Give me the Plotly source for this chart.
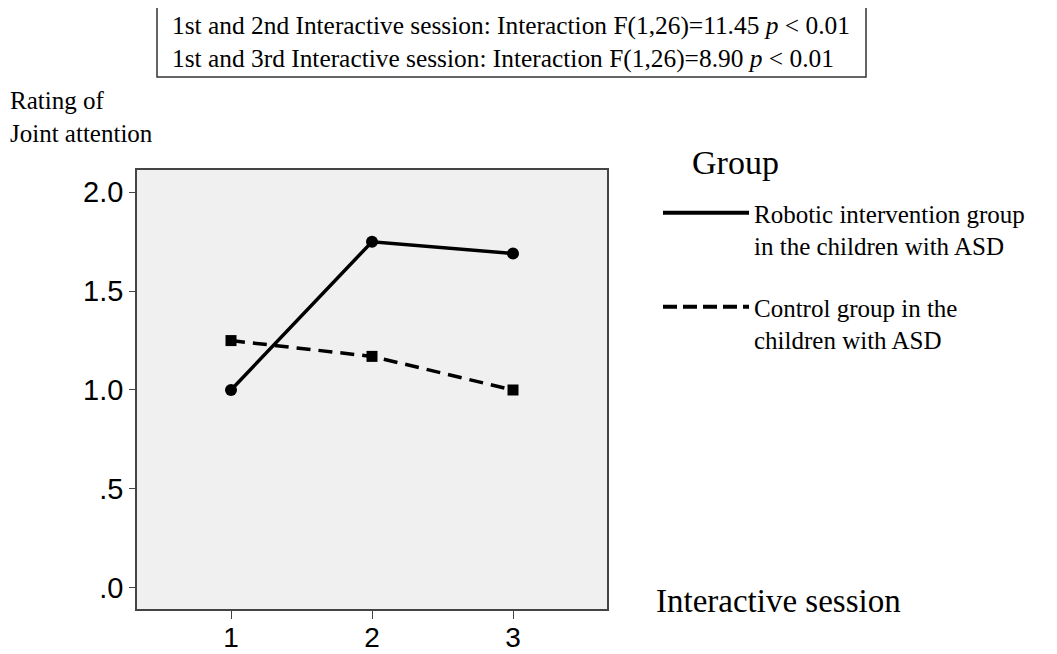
import plotly.graph_objects as go

# dati
sessioni = [1, 2, 3]
robotic = [1.00, 1.75, 1.69]
control = [1.25, 1.17, 1.00]
nome_robotic = "Robotic intervention group<br>in the children with ASD"
nome_control = "Control group in the<br>children with ASD"
y_ticks = [0.0, 0.5, 1.0, 1.5, 2.0]
y_labels = [".0", ".5", "1.0", "1.5", "2.0"]

SERIF = "Liberation Serif, Times New Roman, serif"
SANS = "Liberation Sans, Arial, sans-serif"

OFF = 8      # margine del body della pagina html
W, H = 1057, 654
L, R = 137 - OFF, W - (607 - OFF)
T, B = 170 - OFF, H - (609 - OFF)
PW, PH = W - L - R, H - T - B


def px(x):   # pixel del riferimento -> coordinata paper
    return (x - OFF - L) / PW


def py(y):
    return (H - B - (y - OFF)) / PH


fig = go.Figure()
# linee con marcatori (fuori legenda)
fig.add_trace(go.Scatter(x=sessioni, y=robotic, mode="lines+markers", showlegend=False,
                         line=dict(color="black", width=3.5),
                         marker=dict(symbol="circle", size=12, color="black")))
fig.add_trace(go.Scatter(x=sessioni, y=control, mode="lines+markers", showlegend=False,
                         line=dict(color="black", width=3.5, dash="14px,8px"),
                         marker=dict(symbol="square", size=11, color="black")))
# voci di legenda (solo linea)
fig.add_trace(go.Scatter(x=[None], y=[None], mode="lines", name=nome_robotic,
                         legendgroup="r", line=dict(color="black", width=4)))
fig.add_trace(go.Scatter(x=[None], y=[None], mode="lines", name=nome_control,
                         legendgroup="c", line=dict(color="black", width=4, dash="14px,6px")))

fig.update_layout(
    width=W, height=H,
    margin=dict(l=L, r=R, t=T, b=B, autoexpand=False),
    paper_bgcolor="white", plot_bgcolor="#f0f0f0",
    legend=dict(x=px(658), y=py(190), xanchor="left", yanchor="top", valign="top",
                itemwidth=86, tracegroupgap=26, bgcolor="rgba(0,0,0,0)",
                font=dict(family=SERIF, size=25, color="black")),
    shapes=[dict(type="rect", xref="paper", yref="paper",
                 x0=px(157), x1=px(866), y0=py(77), y1=py(7),
                 line=dict(color="#333", width=1.5))],
    annotations=[
        dict(text="1st and 2nd Interactive session: Interaction F(1,26)=11.45 <i>p</i> &lt; 0.01<br>"
                  "1st and 3rd Interactive session: Interaction F(1,26)=8.90 <i>p</i> &lt; 0.01",
             xref="paper", yref="paper", x=px(170), y=py(42),
             xanchor="left", yanchor="middle", align="left", showarrow=False,
             font=dict(family=SERIF, size=25.4, color="black")),
        dict(text="Rating of<br>Joint attention", xref="paper", yref="paper",
             x=px(8), y=py(117), xanchor="left", yanchor="middle",
             align="left", showarrow=False, font=dict(family=SERIF, size=25, color="black")),
        dict(text="Group", xref="paper", yref="paper",
             x=px(690), y=py(162), xanchor="left", yanchor="middle",
             showarrow=False, font=dict(family=SERIF, size=34, color="black")),
        dict(text="Interactive session", xref="paper", yref="paper",
             x=px(654), y=py(601), xanchor="left", yanchor="middle",
             showarrow=False, font=dict(family=SERIF, size=33, color="black")),
    ],
)
fig.update_xaxes(range=[1 / 3, 3 + 2 / 3], tickvals=sessioni, ticktext=[str(s) for s in sessioni],
                 showgrid=False, zeroline=False, showline=True, linecolor="#444", linewidth=1.5,
                 mirror=True, ticks="outside", ticklen=8, tickcolor="#444",
                 ticklabelstandoff=-5,
                 tickfont=dict(family=SANS, size=28, color="black"))
fig.update_yaxes(range=[-0.108, 2.113], tickvals=y_ticks, ticktext=y_labels,
                 showgrid=False, zeroline=False, showline=True, linecolor="#444", linewidth=1.5,
                 mirror=True, ticks="outside", ticklen=6, tickcolor="#444",
                 tickfont=dict(family=SANS, size=29, color="black"))

fig.write_html("out.html")
